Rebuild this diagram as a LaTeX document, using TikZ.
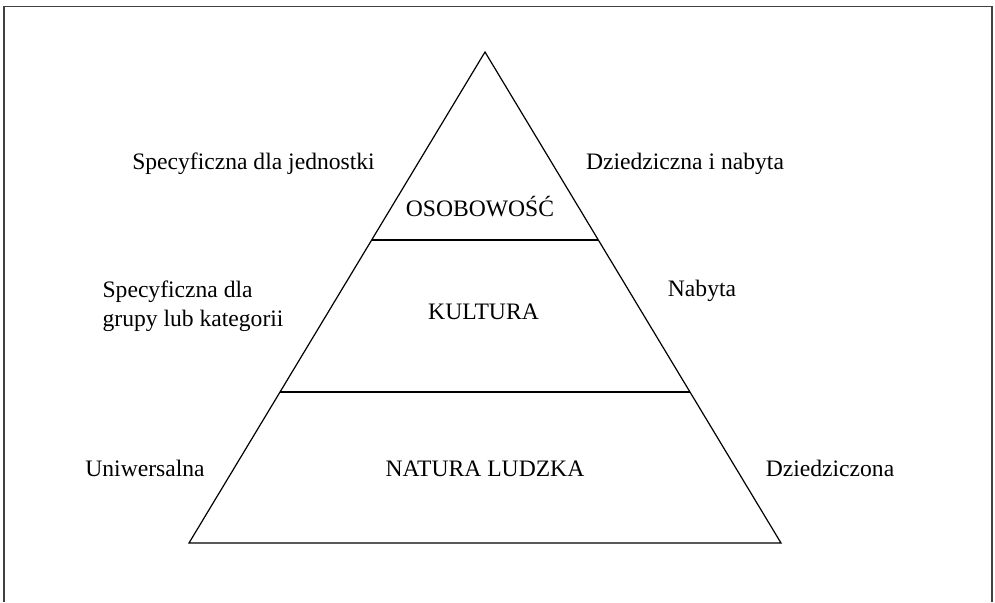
\documentclass[tikz,border=0pt]{standalone}
\usepackage{fontspec}
\setmainfont{Liberation Serif}
\usetikzlibrary{calc}
\tikzset{
	every path/.style={line width=1.2pt},
	frame/.style={
		draw=black!75,
		line width=1.8pt,
	},
	level/.style={
		inner sep=0pt,
		anchor=base,
		font=\fontsize{23.6}{29.5}\selectfont,
	},
	side/.style={
		inner sep=0pt,
		anchor=base,
		align=left,
		font=\fontsize{23.6}{29.5}\selectfont,
	},
}

\begin{document}
\begin{tikzpicture}[x=1pt,y=-1pt]
		\useasboundingbox (0,0) rectangle (995,602);

		% frame, open at the bottom
		\coordinate (fbl) at (4,602);
		\coordinate (ftl) at (4,6.5);
		\coordinate (ftr) at (992,6.5);
		\coordinate (fbr) at (992,602);
		\draw[frame] (fbl) -- (ftl) -- (ftr) -- (fbr);

		% pyramid
		\coordinate (apex) at (485,52);
		\coordinate (bl) at (189,543);
		\coordinate (br) at (781,543);
		\draw (bl) -- (apex) -- (br) -- cycle;
		\draw ($(apex)!0.383!(bl)$) -- ($(apex)!0.383!(br)$);
		\draw ($(apex)!0.6925!(bl)$) -- ($(apex)!0.6925!(br)$);

		\node[level] (osob) at (480,216.7) {OSOBOWOŚĆ};
		\node[level] (kult) at (483.5,319) {KULTURA};
		\node[level] (natu) at (485,476.5) {NATURA LUDZKA};

		\node[side] (jedn) at (253.5,169.5) {Specyficzna dla jednostki};
		\node[side] (dzna) at (685,169.5) {Dziedziczna i nabyta};
		% base of a two-line node is its last line
		\node[side,anchor=base west] (grup) at (102,326.7) {Specyficzna dla\\grupy lub kategorii};
		\node[side] (naby) at (702,296.7) {Nabyta};
		\node[side] (uniw) at (145,476.5) {Uniwersalna};
		\node[side] (dzon) at (830,476.5) {Dziedziczona};
	\end{tikzpicture}
\end{document}
